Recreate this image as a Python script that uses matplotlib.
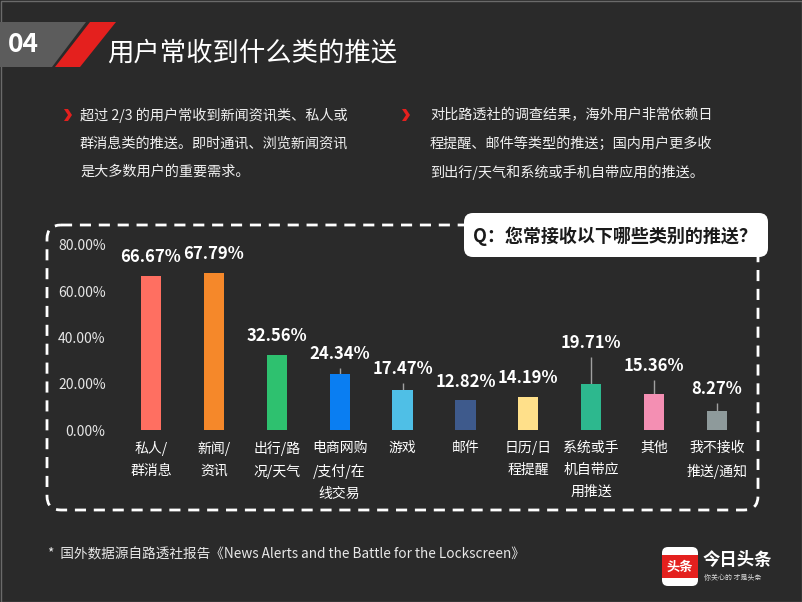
import numpy as np
import matplotlib.pyplot as plt
from matplotlib.patches import FancyBboxPatch, Polygon, Rectangle

plt.rcParams['font.family'] = ['Noto Sans CJK SC', 'DejaVu Sans']

categories = ['私人/\n群消息', '新闻/\n资讯', '出行/路\n况/天气', '电商网购\n/支付/在\n线交易', '游戏',
              '邮件', '日历/日\n程提醒', '系统或手\n机自带应\n用推送', '其他', '我不接收\n推送/通知']
values = [66.67, 67.79, 32.56, 24.34, 17.47, 12.82, 14.19, 19.71, 15.36, 8.27]
err_up = [0, 0, 0, 2.5, 2.9, 0, 0, 11.9, 6.3, 3.4]
colors = ['#ff6f61', '#f5882a', '#2ec16f', '#0a7ef2', '#4fbfe6',
          '#3e5a8c', '#ffe08a', '#2db88e', '#f48fb3', '#8e9a9b']
y_ticks = [0, 20, 40, 60, 80]

bullet_left = ['超过 2/3 的用户常收到新闻资讯类、私人或', '群消息类的推送。即时通讯、浏览新闻资讯', '是大多数用户的重要需求。']
bullet_right = ['对比路透社的调查结果，海外用户非常依赖日', '程提醒、邮件等类型的推送；国内用户更多收', '到出行/天气和系统或手机自带应用的推送。']

bg = '#2a2a2a'
W, H = 802, 602
fig = plt.figure(figsize=(8.02, 6.02), dpi=100, facecolor=bg)

# decoration layer in pixel coordinates
deco = fig.add_axes([0, 0, 1, 1], zorder=0)
deco.set_xlim(0, W)
deco.set_ylim(H, 0)
deco.axis('off')
deco.add_patch(Rectangle((0.5, 0.5), W - 1, H - 1, fill=True, fc=bg, ec='#6a6a6a', lw=1))

# header
deco.add_patch(Polygon([(0, 22), (86, 22), (52, 67), (0, 67)], closed=True, fc='#5c5c5c', ec='none'))
deco.add_patch(Polygon([(90, 22), (116, 22), (80, 67), (55, 67)], closed=True, fc='#e4201e', ec='none'))
deco.text(8, 45, '04', color='white', fontsize=19, fontweight='bold', va='center', ha='left')
deco.text(107, 53, '用户常收到什么类的推送', color='white', fontsize=19, va='center', ha='left')

# bullets
def chevron(x, y):
    deco.add_patch(Polygon([(x - 3, y - 6), (x + 1, y - 6), (x + 5, y), (x + 1, y + 6), (x - 3, y + 6), (x + 1, y)],
                           closed=True, fc='#e4201e', ec='none'))

chevron(67, 115)
chevron(405, 115)
for i, line in enumerate(bullet_left):
    deco.text(80, 115 + i * 28.5, line, color='#f0f0f0', fontsize=10.2, va='center', ha='left')
for i, line in enumerate(bullet_right):
    deco.text(430, 115 + i * 28.5, line, color='#f0f0f0', fontsize=10.2, va='center', ha='left')

# dashed frame and question box
deco.add_patch(FancyBboxPatch((47, 225), 711, 285, boxstyle='round,pad=0,rounding_size=14',
                              fill=False, ec='white', lw=2.0, ls=(0, (4, 2.8))))
deco.add_patch(FancyBboxPatch((464, 213), 304, 44, boxstyle='round,pad=0,rounding_size=9',
                              fc='white', ec='none'))
deco.text(615, 236, 'Q：您常接收以下哪些类别的推送？', color='#1a1a1a', fontsize=13,
          fontweight='bold', va='center', ha='center')

# footer
deco.text(48, 554, '*  国外数据源自路透社报告《News Alerts and the Battle for the Lockscreen》',
          color='#e8e8e8', fontsize=9.8, va='center', ha='left')
deco.add_patch(FancyBboxPatch((662, 547), 36, 39, boxstyle='round,pad=0,rounding_size=6', fc='white', ec='none'))
deco.add_patch(Rectangle((662, 555), 36, 23, fc='#e4201e', ec='none'))
deco.text(680, 566.5, '头条', color='white', fontsize=9.5, fontweight='bold', va='center', ha='center')
deco.text(703, 560, '今日头条', color='white', fontsize=12.5, fontweight='bold', va='center', ha='left')
deco.text(704, 578, '你关心的 才是头条', color='#dddddd', fontsize=5, va='center', ha='left')

# chart
x = np.arange(len(values))
ax = fig.add_axes([119.5 / W, 172 / H, 629 / W, 185 / H], zorder=1)
ax.patch.set_alpha(0)
ax.bar(x, values, width=0.32, color=colors, zorder=2)
ax.errorbar(x, values, yerr=[np.zeros(len(values)), err_up], fmt='none', ecolor='#a0a0a0',
            elinewidth=1, capsize=0, zorder=1)
for i, v in enumerate(values):
    top = v + err_up[i]
    off = 10 if err_up[i] else 13.5
    ax.annotate('{:.2f}%'.format(v), (i, top), xytext=(0, off), textcoords='offset points',
                ha='center', va='center', color='white', fontsize=12, fontweight='bold',
                annotation_clip=False)

ax.set_xlim(-0.5, 9.5)
ax.set_ylim(0, 80)
ax.set_yticks(y_ticks)
ax.set_yticklabels(['{:.2f}%'.format(t) for t in y_ticks], color='#e6e6e6', fontsize=10)
ax.set_xticks(x)
ax.set_xticklabels(categories, color='white', fontsize=10, linespacing=1.7)
ax.tick_params(length=0)
ax.tick_params(axis='y', pad=10)
ax.tick_params(axis='x', pad=8)
for s in ax.spines.values():
    s.set_visible(False)

fig.savefig('out.png', dpi=100, facecolor=bg)
